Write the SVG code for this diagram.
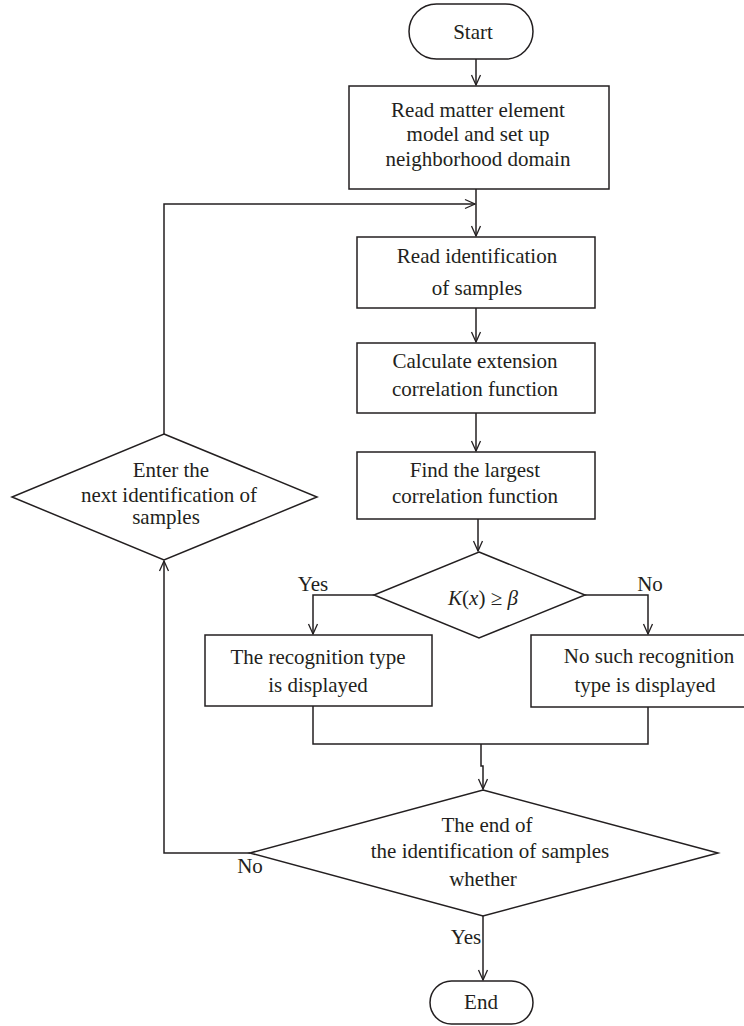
<svg xmlns="http://www.w3.org/2000/svg" width="744" height="1026" viewBox="0 0 744 1026">
<defs>
<marker id="arr" viewBox="0 0 12 12" markerWidth="12" markerHeight="12" refX="11" refY="6" orient="auto" markerUnits="userSpaceOnUse">
<path d="M1,1.5 L11,6 L1,10.5" fill="none" stroke="#231f20" stroke-width="1.3"/>
</marker>
<style>
.s{fill:#fff;stroke:#231f20;stroke-width:1.5}
.c{fill:none;stroke:#231f20;stroke-width:1.5}
.t{font-family:"Liberation Serif","Times New Roman",serif;font-size:21px;fill:#231f20;text-anchor:middle}
.i{font-style:italic}
</style>
</defs>
<rect width="744" height="1026" fill="#fff"/>
<g id="connectors">
<path class="c" d="M476,59 V85" marker-end="url(#arr)"/>
<path class="c" d="M476,189 V236" marker-end="url(#arr)"/>
<path class="c" d="M476,308 V342" marker-end="url(#arr)"/>
<path class="c" d="M476,413 V451" marker-end="url(#arr)"/>
<path class="c" d="M478,519 V551" marker-end="url(#arr)"/>
<path class="c" d="M374,595 H313 V634" marker-end="url(#arr)"/>
<path class="c" d="M585,595 H648 V634" marker-end="url(#arr)"/>
<path class="c" d="M313,706 V744 H648 V707"/>
<path class="c" d="M481,744 V766 H483 V789" marker-end="url(#arr)"/>
<path class="c" d="M483,916 V980" marker-end="url(#arr)"/>
<path class="c" d="M250,853 H164 V561" marker-end="url(#arr)"/>
<path class="c" d="M164,434 V204 H475" marker-end="url(#arr)"/>
<text class="t" x="313" y="591">Yes</text>
<text class="t" x="650" y="591">No</text>
<text class="t" x="250" y="873">No</text>
<text class="t" x="466" y="944">Yes</text>
</g>
<g id="start">
<rect class="s" x="409" y="4" width="124" height="55" rx="27.5"/>
<text class="t" x="473" y="39">Start</text>
</g>
<g id="read-model">
<rect class="s" x="349" y="86" width="260" height="103"/>
<text class="t" x="478" y="117">Read matter element</text>
<text class="t" x="478" y="141">model and set up</text>
<text class="t" x="478" y="166">neighborhood domain</text>
</g>
<g id="read-samples">
<rect class="s" x="357" y="237" width="238" height="71"/>
<text class="t" x="477" y="263">Read identification</text>
<text class="t" x="477" y="295">of samples</text>
</g>
<g id="calculate">
<rect class="s" x="357" y="343" width="238" height="70"/>
<text class="t" x="475" y="368">Calculate extension</text>
<text class="t" x="475" y="396">correlation function</text>
</g>
<g id="find-largest">
<rect class="s" x="357" y="452" width="238" height="67"/>
<text class="t" x="475" y="477">Find the largest</text>
<text class="t" x="475" y="503">correlation function</text>
</g>
<g id="decision-k">
<polygon class="s" points="479,552 585,595 479,638 374,595"/>
<text class="t" x="483" y="605"><tspan class="i">K</tspan>(<tspan class="i">x</tspan>) ≥ <tspan class="i">β</tspan></text>
</g>
<g id="type-displayed">
<rect class="s" x="205" y="635" width="227" height="71"/>
<text class="t" x="318" y="664">The recognition type</text>
<text class="t" x="318" y="692">is displayed</text>
</g>
<g id="no-type">
<rect class="s" x="531" y="635" width="240" height="72"/>
<text class="t" x="649" y="663">No such recognition</text>
<text class="t" x="645" y="692">type is displayed</text>
</g>
<g id="end-decision">
<polygon class="s" points="483,790 718,853 483,916 250,853"/>
<text class="t" x="487" y="832">The end of</text>
<text class="t" x="490" y="858">the identification of samples</text>
<text class="t" x="483" y="886">whether</text>
</g>
<g id="enter-next">
<polygon class="s" points="164,434 317,497 164,560 12,497"/>
<text class="t" x="171" y="477">Enter the</text>
<text class="t" x="169" y="502">next identification of</text>
<text class="t" x="166" y="524">samples</text>
</g>
<g id="end">
<rect class="s" x="430" y="981" width="103" height="43" rx="21.5"/>
<text class="t" x="481" y="1009">End</text>
</g>
</svg>
